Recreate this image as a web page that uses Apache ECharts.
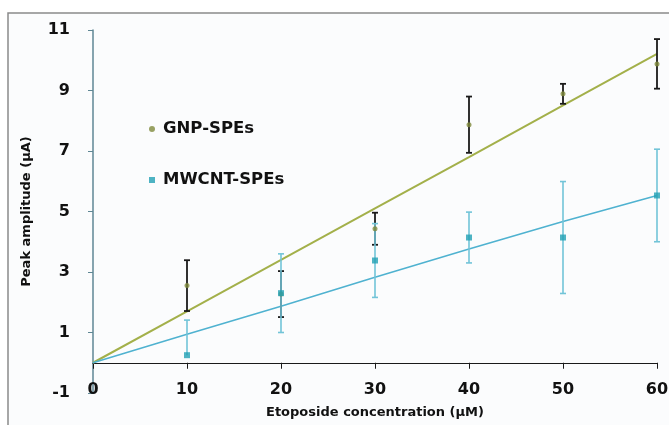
<!DOCTYPE html>
<html>
<head>
<meta charset="utf-8">
<script src="https://cdn.jsdelivr.net/npm/echarts@6/dist/echarts.min.js"></script>
<style>
html,body{margin:0;padding:0;background:#ffffff;}
#chart{width:669px;height:425px;}
</style>
</head>
<body>
<div id="chart"></div>
<script>
// ---- data ----
const conc = [10, 20, 30, 40, 50, 60];
const gnpValues = [2.55, 2.27, 4.43, 7.87, 8.89, 9.88];
const gnpErrMinus = [0.84, 0.76, 0.53, 0.93, 0.33, 0.82];
const gnpErrPlus = [0.84, 0.76, 0.53, 0.93, 0.33, 0.82];
const mwcntValues = [0.25, 2.30, 3.38, 4.14, 4.14, 5.53];
const mwcntErrMinus = [0, 1.30, 1.22, 0.84, 1.85, 1.53];
const mwcntErrPlus = [1.16, 1.30, 1.22, 0.84, 1.85, 1.53];
const trendX = [0, 10, 20, 30, 40, 50, 60];
const gnpTrend = [0, 1.70, 3.40, 5.10, 6.80, 8.51, 10.21];
const mwcntTrend = [0, 0.94, 1.87, 2.83, 3.76, 4.67, 5.53];
const seriesNames = ['GNP-SPEs', 'MWCNT-SPEs'];
const xTitle = 'Etoposide concentration (µM)';
const yTitle = 'Peak amplitude (µA)';

const FONT = 'DejaVu Sans';
const chart = echarts.init(document.getElementById('chart'), null, {renderer: 'canvas'});

function errSeries(xs, ys, minus, plus, color, width, z) {
  return {
    type: 'custom',
    silent: true,
    z: z,
    data: xs.map((x, i) => [x, ys[i] - minus[i], ys[i] + plus[i], minus[i] > 0 ? 1 : 0]),
    encode: {x: 0, y: [1, 2]},
    renderItem: function (params, api) {
      const lo = api.coord([api.value(0), api.value(1)]);
      const hi = api.coord([api.value(0), api.value(2)]);
      const cw = 3;
      const st = {stroke: color, lineWidth: width};
      const children = [
        {type: 'line', shape: {x1: hi[0], y1: hi[1], x2: lo[0], y2: lo[1]}, style: st},
        {type: 'line', shape: {x1: hi[0] - cw, y1: hi[1], x2: hi[0] + cw, y2: hi[1]}, style: st}
      ];
      if (api.value(3)) {
        children.push({type: 'line', shape: {x1: lo[0] - cw, y1: lo[1], x2: lo[0] + cw, y2: lo[1]}, style: st});
      }
      return {type: 'group', children: children};
    }
  };
}

const option = {
  animation: false,
  backgroundColor: '#ffffff',
  graphic: [{
    type: 'rect', z: -10, silent: true,
    shape: {x: 8, y: 13, width: 700, height: 450},
    style: {fill: '#fbfcfd', stroke: '#8a8a8a', lineWidth: 1.5}
  }],
  grid: {left: 93, right: 12, top: 30, bottom: 32, containLabel: false, outerBoundsMode: 'none'},
  legend: {
    orient: 'vertical', left: 144, top: 114, itemGap: 31,
    itemWidth: 6, itemHeight: 6,
    selectedMode: false,
    data: [
      {name: seriesNames[0], icon: 'circle', itemStyle: {color: '#7f8a3c'}},
      {name: seriesNames[1], icon: 'rect', itemStyle: {color: '#22a0b4'}}
    ],
    textStyle: {fontFamily: FONT, fontWeight: 'bold', fontSize: 16.5, color: '#111', padding: [0, 0, 0, 3], lineHeight: 20}
  },
  xAxis: {
    type: 'value', min: 0, max: 60, interval: 10,
    name: xTitle, nameLocation: 'middle', nameGap: 13,
    nameTextStyle: {fontFamily: FONT, fontWeight: 'bold', fontSize: 13, color: '#111'},
    axisLine: {onZero: true, lineStyle: {color: '#1a1a1a', width: 1.2}},
    axisTick: {show: true, length: 6, lineStyle: {color: '#1a1a1a'}},
    axisLabel: {margin: -11, fontFamily: FONT, fontWeight: 'bold', fontSize: 16, color: '#111'},
    splitLine: {show: false}
  },
  yAxis: {
    type: 'value', min: -1, max: 11, interval: 2,
    name: yTitle, nameLocation: 'middle', nameGap: 60,
    nameTextStyle: {fontFamily: FONT, fontWeight: 'bold', fontSize: 13, color: '#111'},
    axisLine: {show: true, onZero: false, lineStyle: {color: '#5f8794', width: 1.5}},
    axisTick: {show: true, length: 5, lineStyle: {color: '#5f8794'}},
    axisLabel: {margin: 23, fontFamily: FONT, fontWeight: 'bold', fontSize: 16, color: '#111'},
    splitLine: {show: false}
  },
  series: [
    {
      type: 'line', name: 'gnpTrend', z: 2, silent: true, symbol: 'none',
      data: trendX.map((x, i) => [x, gnpTrend[i]]),
      lineStyle: {color: '#a3b04a', width: 2}
    },
    {
      type: 'line', name: 'mwcntTrend', z: 2, silent: true, symbol: 'none',
      data: trendX.map((x, i) => [x, mwcntTrend[i]]),
      lineStyle: {color: '#4fb2d0', width: 1.6}
    },
    errSeries(conc, gnpValues, gnpErrMinus, gnpErrPlus, '#1a1a1a', 1.8, 3),
    errSeries(conc, mwcntValues, mwcntErrMinus, mwcntErrPlus, '#72c4d8', 1.6, 4),
    {
      type: 'scatter', name: seriesNames[0], z: 5, symbol: 'circle', symbolSize: 5,
      data: conc.map((x, i) => [x, gnpValues[i]]),
      itemStyle: {color: '#7f8a3c'}
    },
    {
      type: 'scatter', name: seriesNames[1], z: 6, symbol: 'rect', symbolSize: 6,
      data: conc.map((x, i) => [x, mwcntValues[i]]),
      itemStyle: {color: '#22a0b4'}
    }
  ]
};
chart.setOption(option);
</script>
</body>
</html>
